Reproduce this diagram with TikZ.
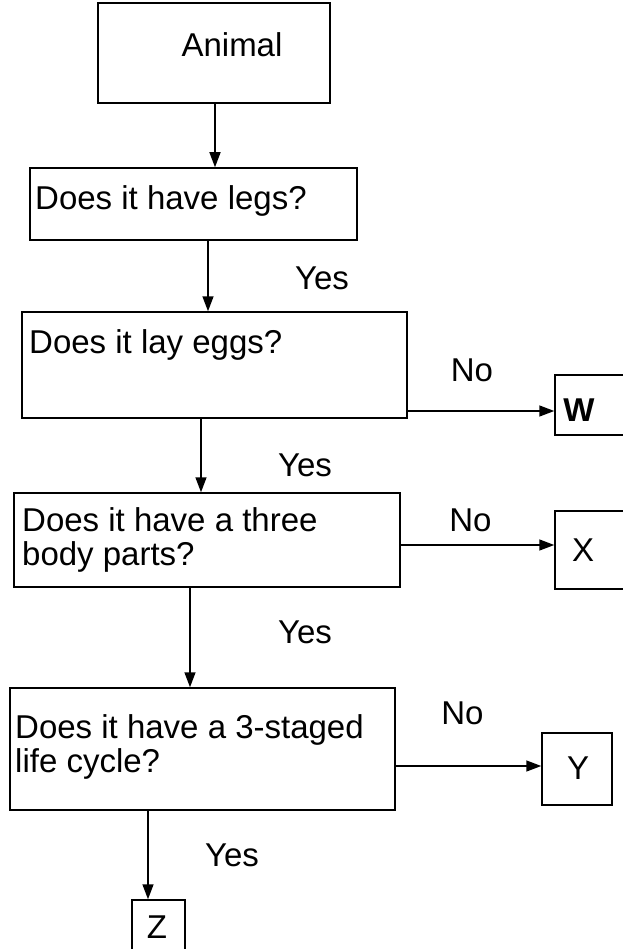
\documentclass[tikz,border=0pt]{standalone}
\usepackage{fontspec}
\setmainfont{Liberation Sans}
\usetikzlibrary{arrows.meta}
\begin{document}
\begin{tikzpicture}[x=1pt,y=1pt,
  box/.style={draw,line width=1.5pt,minimum width=#1,inner sep=0pt},
  txt/.style={font=\fontsize{33}{34}\selectfont,anchor=west,align=left,inner sep=0pt},
  lbl/.style={font=\fontsize{33}{34}\selectfont,anchor=center,inner sep=0pt},
  arr/.style={line width=1.5pt,-{Triangle[length=15pt,width=11pt]}}]
\useasboundingbox (0,0) rectangle (622,-949);
% boxes
\node[box=232pt,minimum height=100pt] (animal) at (214,-53) {};
\node[box=327pt,minimum height=72pt] (legs) at (193.5,-204) {};
\node[box=385pt,minimum height=106pt] (eggs) at (214.5,-365) {};
\node[box=386pt,minimum height=94pt] (three) at (207,-540) {};
\node[box=385pt,minimum height=122pt] (cycle) at (202.5,-749) {};
\node[box=80pt,minimum height=60pt] (W) at (595,-405) {};
\node[box=80pt,minimum height=78pt] (X) at (595,-550) {};
\node[box=70pt,minimum height=72pt] (Y) at (577,-769) {};
\node[box=53pt,minimum height=80pt] (Z) at (158.5,-940) {};
% texts
\node[lbl] (tA) at (232,-45) {Animal};
\node[txt] (t1) at (35,-201) {Does it have legs?};
\node[txt] (t2) at (29,-345) {Does it lay eggs?};
\node[txt] (t3) at (22,-540) {Does it have a three\\body parts?};
\node[txt] (t4) at (15,-747) {Does it have a 3-staged\\life cycle?};
\node[lbl] (tW) at (579,-410) {\textbf{W}};
\node[lbl] (tX) at (583,-550) {X};
\node[lbl] (tY) at (578,-768) {Y};
\node[lbl] (tZ) at (157,-927) {Z};
% connector x positions
\coordinate (c1) at (215,0);
\coordinate (c2) at (208,0);
\coordinate (c3) at (201,0);
\coordinate (c4) at (190,0);
\coordinate (c5) at (148,0);
\draw[arr] (animal.south -| c1) -- (legs.north -| c1);
\draw[arr] (legs.south -| c2) -- node[lbl,xshift=114pt,yshift=-2pt] (y1) {Yes} (eggs.north -| c2);
\draw[arr] (eggs.south -| c3) -- node[lbl,xshift=104pt,yshift=-10pt] (y2) {Yes} (three.north -| c3);
\draw[arr] (three.south -| c4) -- node[lbl,xshift=115pt,yshift=5pt] (y3) {Yes} (cycle.north -| c4);
\draw[arr] (cycle.south -| c5) -- node[lbl,xshift=84pt] (y4) {Yes} (Z.north -| c5);
\coordinate (h1) at (0,-411);
\coordinate (h2) at (0,-545);
\coordinate (h3) at (0,-766);
\draw[arr] (eggs.east |- h1) -- node[lbl,xshift=-9pt,yshift=41pt] (n1) {No} (W.west |- h1);
\draw[arr] (three.east |- h2) -- node[lbl,xshift=-7pt,yshift=25pt] (n2) {No} (X.west |- h2);
\draw[arr] (cycle.east |- h3) -- node[lbl,xshift=-6pt,yshift=53pt] (n3) {No} (Y.west |- h3);
\end{tikzpicture}
\end{document}
